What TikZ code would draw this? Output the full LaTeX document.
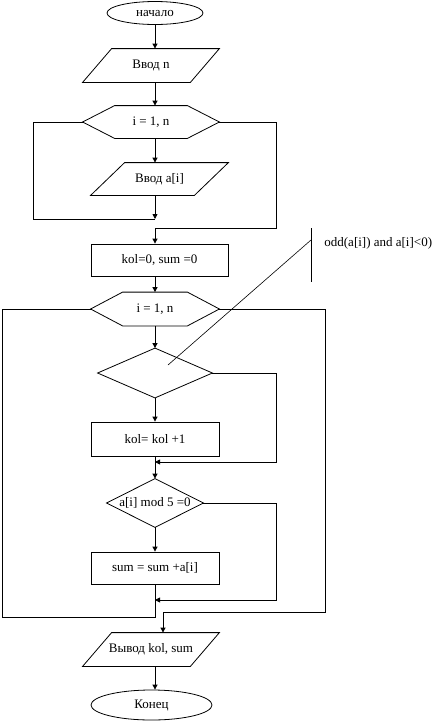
\documentclass[tikz,border=0pt]{standalone}
\usepackage{fontspec}
\setmainfont{Liberation Serif}
\usetikzlibrary{shapes.geometric,arrows.meta}
\tikzset{
  lbl/.style={rectangle, inner sep=0pt, font=\fontsize{13}{15}\selectfont},
  term/.style={ellipse, draw, inner sep=0pt, font=\fontsize{13}{15}\selectfont},
  procbox/.style={rectangle, draw, inner sep=0pt, font=\fontsize{13}{15}\selectfont},
  arr/.style={-{Triangle[length=5pt,width=5pt]}},
}
\begin{document}
\begin{tikzpicture}[x=1pt,y=-1pt,line width=0.8pt]
\useasboundingbox (0,0) rectangle (447,724);
% axis coordinates
\coordinate (ax) at (155,0);
\coordinate (ax2) at (163,0);
% nodes
\node[term, minimum width=96pt, minimum height=23pt] (start) at (155,13) {начало};
\node[lbl, minimum width=136pt, minimum height=33pt] (in1) at (151,65.5) {Ввод n};
\draw (in1.south west) -- ([xshift=29pt]in1.north west) -- (in1.north east) -- ([xshift=-29pt]in1.south east) -- cycle;
\node[lbl, minimum width=136pt, minimum height=32pt] (hex1) at (151,122) {i = 1, n};
\draw (hex1.west) -- ([xshift=32pt]hex1.north west) -- ([xshift=-32pt]hex1.north east) -- (hex1.east) -- ([xshift=-32pt]hex1.south east) -- ([xshift=32pt]hex1.south west) -- cycle;
\node[lbl, minimum width=137pt, minimum height=32pt] (in2) at (159.5,179) {Ввод a[i]};
\draw (in2.south west) -- ([xshift=34pt]in2.north west) -- (in2.north east) -- ([xshift=-34pt]in2.south east) -- cycle;
\node[procbox, minimum width=137pt, minimum height=32pt] (init) at (159.5,260) {kol=0, sum =0};
\node[lbl, minimum width=128pt, minimum height=33pt] (hex2) at (155,309) {i = 1, n};
\draw (hex2.west) -- ([xshift=32pt]hex2.north west) -- ([xshift=-32pt]hex2.north east) -- (hex2.east) -- ([xshift=-32pt]hex2.south east) -- ([xshift=32pt]hex2.south west) -- cycle;
\node[lbl, minimum width=114pt, minimum height=49pt] (d1) at (155,373) {};
\draw (d1.west) -- (d1.north) -- (d1.east) -- (d1.south) -- cycle;
\node[procbox, minimum width=128pt, minimum height=34pt] (box2) at (155,439) {kol= kol +1};
\node[lbl, minimum width=96pt, minimum height=48pt] (d2) at (155,503) {a[i] mod 5 =0};
\draw (d2.west) -- (d2.north) -- (d2.east) -- (d2.south) -- cycle;
\node[procbox, minimum width=128pt, minimum height=32pt] (box3) at (155,568) {sum = sum +a[i]};
\node[lbl, minimum width=136pt, minimum height=33pt] (out) at (151,649.5) {Вывод kol, sum};
\draw (out.south west) -- ([xshift=29pt]out.north west) -- (out.north east) -- ([xshift=-29pt]out.south east) -- cycle;
\node[term, minimum width=121pt, minimum height=30pt] (end) at (151.5,705) {Конец};
% annotation
\node[lbl, anchor=west] (note) at (324,243) {odd(a[i]) and a[i]<0)};
\coordinate (nt) at (311,228);
\coordinate (nb) at (311,282);
\coordinate (nm) at (311,240);
\coordinate (np) at (168,365);
\draw[line width=0.6pt] (nt) -- (nb);
\draw[line width=0.6pt] (nm) -- (np);
% junction coordinates
\coordinate (j1) at (155,219);
\coordinate (r1) at (276,228);
\coordinate (l1) at (33,219);
\coordinate (r2) at (276,462);
\coordinate (j2) at (155,462);
\coordinate (r3) at (276,600);
\coordinate (j3) at (155,600);
\coordinate (l2) at (2,617);
\coordinate (r4) at (325,612);
% connectors
\draw[arr] (start.south -| ax) -- (ax |- in1.north);
\draw[arr] (ax |- in1.south) -- (ax |- hex1.north);
\draw[arr] (ax |- hex1.south) -- (ax |- in2.north);
\draw[arr] (ax |- in2.south) -- (j1);
\draw (hex1.west) -| (l1) -- (j1);
\draw[arr] (hex1.east) -| (r1) -| (ax |- init.north);
\draw[arr] (ax |- init.south) -- (hex2.north);
\draw[arr] (hex2.south) -- (d1.north);
\draw[arr] (d1.south) -- (box2.north);
\draw[arr] (d1.east) -| (r2) -- (j2);
\draw[arr] (box2.south) -- (d2.north);
\draw[arr] (d2.south) -- (box3.north);
\draw[arr] (d2.east) -| (r3) -- (j3);
\draw (hex2.west) -| (l2) -| (box3.south);
\draw[arr] (hex2.east) -| (r4) -| (ax2 |- out.north);
\draw[arr] (ax |- out.south) -- (ax |- end.north);
\end{tikzpicture}
\end{document}
